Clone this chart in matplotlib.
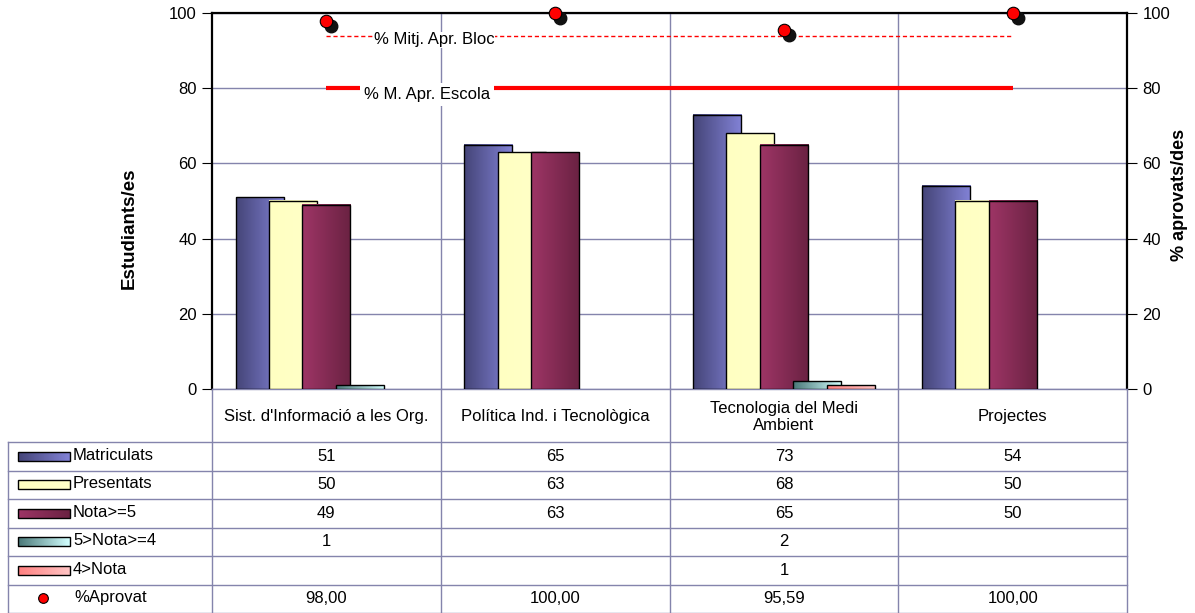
import numpy as np
import matplotlib
matplotlib.use("Agg")
import matplotlib.pyplot as plt
from matplotlib.colors import LinearSegmentedColormap
from matplotlib.transforms import offset_copy
from matplotlib.patches import Rectangle

# ---------------- data ----------------
categories = ["Sist. d'Informació a les Org.", "Política Ind. i Tecnològica",
              "Tecnologia del Medi\nAmbient", "Projectes"]
series_names = ["Matriculats", "Presentats", "Nota>=5", "5>Nota>=4", "4>Nota"]
matriculats = [51, 65, 73, 54]
presentats = [50, 63, 68, 50]
nota_ge5 = [49, 63, 65, 50]
nota_4_5 = [1, None, 2, None]
nota_lt4 = [None, None, 1, None]
aprovat = [98.00, 100.00, 95.59, 100.00]
mitj_bloc = 94
mitj_escola = 80
yticks = [0, 20, 40, 60, 80, 100]

series = [matriculats, presentats, nota_ge5, nota_4_5, nota_lt4]
grads = [("#454578", "#8282d6"),
         ("#ffffc2", "#ffffc8"),
         ("#9e3566", "#6a2242"),
         ("#4a7878", "#d2ffff"),
         ("#ff8080", "#ffc4c4")]

plt.rcParams['font.family'] = ['Liberation Sans', 'DejaVu Sans']
FS = 12
GRID = "#8484ac"

W, H = 1195, 613
fig = plt.figure(figsize=(W / 100, H / 100), dpi=100)
L, R, T, B = 212, 1127, 13, 389
ax = fig.add_axes([L / W, 1 - B / H, (R - L) / W, (B - T) / H])

x = np.arange(len(categories))
offs = np.array([-2, -1, 0, 1, 2]) * 0.146
bw = 0.21


def gradcmap(c):
    return LinearSegmentedColormap.from_list("g", list(c))


gimg = np.linspace(0, 1, 64).reshape(1, -1)

for k, (name, vals) in enumerate(zip(series_names, series)):
    h = np.array([np.nan if v is None else v for v in vals], float)
    z = 3 + k * 0.1
    bars = ax.bar(x + offs[k], np.nan_to_num(h), bw, facecolor='none',
                  edgecolor='black', lw=1, zorder=z + 0.05)
    for b, v in zip(bars, h):
        if np.isnan(v):
            b.set_visible(False)
            continue
        x0 = b.get_x()
        ax.imshow(gimg, cmap=gradcmap(grads[k]), extent=(x0, x0 + b.get_width(), 0, v),
                  aspect='auto', zorder=z, interpolation='bilinear')

# reference lines
ax.plot(x, [mitj_bloc] * len(x), color='red', ls=(0, (3, 2)), lw=1, zorder=5)
ax.plot(x, [mitj_escola] * len(x), color='red', lw=3, zorder=5, solid_capstyle='butt')
ax.text(0.47, 92.9, "% Mitj. Apr. Bloc", fontsize=FS, ha='center', va='center', zorder=6,
        bbox=dict(facecolor='white', edgecolor='none', pad=0.5))
ax.text(0.44, 78.3, "% M. Apr. Escola", fontsize=FS, ha='center', va='center', zorder=6,
        bbox=dict(facecolor='white', edgecolor='none', pad=3))

# %Aprovat points with shadow
shadow = offset_copy(ax.transData, fig=fig, x=5, y=-5, units='dots')
ax.plot(x, aprovat, 'o', color='#111111', ms=9, transform=shadow, zorder=7, clip_on=False)
ax.plot(x, aprovat, 'o', color='red', mec='black', mew=0.8, ms=9, zorder=8, clip_on=False)

ax.set_xlim(-0.5, len(x) - 0.5)
ax.set_ylim(0, 100)
ax.set_yticks(yticks)
ax.set_xticks([])
ax.yaxis.grid(True, color=GRID, lw=1)
ax.set_axisbelow(True)
for xb in x[:-1] + 0.5:
    ax.axvline(xb, color=GRID, lw=1, zorder=1)
ax.tick_params(axis='y', direction='out', length=7, labelsize=FS, pad=4, right=True,
               labelright=True)
for s in ['left', 'right', 'top']:
    ax.spines[s].set_color('black')
    ax.spines[s].set_linewidth(1.6)
ax.spines['bottom'].set_color(GRID)
ax.spines['bottom'].set_linewidth(1)

fig.text(129 / W, 1 - 228 / H, "Estudiants/es", rotation=90, fontsize=13.5, fontweight='bold',
         ha='center', va='center')
fig.text(1180 / W, 1 - 195 / H, "% aprovats/des", rotation=90, fontsize=13, fontweight='bold',
         ha='center', va='center')

# ---------------- data table ----------------
ov = fig.add_axes([0, 0, 1, 1], zorder=5)
ov.set_xlim(0, W)
ov.set_ylim(H, 0)
ov.axis('off')
ov.patch.set_visible(False)

cols = [ax.transData.transform((xb, 0))[0] for xb in np.arange(len(x) + 1) - 0.5]
centers = [(cols[i] + cols[i + 1]) / 2 for i in range(len(x))]
row0, rh, tx0 = 442, 28.5, 8
nrows = 6
for c in cols:
    ov.plot([c, c], [B, H], color=GRID, lw=1)
ov.plot([tx0, tx0], [row0, H], color=GRID, lw=1)
for k in range(nrows + 1):
    yy = row0 + k * rh
    ov.plot([tx0, cols[-1]], [yy, yy], color=GRID, lw=1)

for c, lab in zip(centers, categories):
    ov.text(c, 417, lab, fontsize=FS, ha='center', va='center', linespacing=1.15)

for k, (name, vals) in enumerate(zip(series_names, series)):
    yc = row0 + (k + 0.5) * rh
    ov.imshow(gimg, cmap=gradcmap(grads[k]), extent=(18, 70, yc + 4.5, yc - 4.5),
              aspect='auto', interpolation='bilinear', zorder=2)
    ov.add_patch(Rectangle((18, yc - 4.5), 52, 9, facecolor='none', edgecolor='black',
                           lw=1, zorder=3))
    ov.text(73, yc - 1, name, fontsize=FS, ha='left', va='center')
    for c, v in zip(centers, vals):
        if v is not None:
            ov.text(c, yc, f"{v}", fontsize=FS, ha='center', va='center')

yc = row0 + (len(series) + 0.5) * rh
ov.plot([43], [yc - 1], 'o', color='red', mec='black', mew=0.8, ms=7)
ov.text(74, yc - 1, "%Aprovat", fontsize=FS, ha='left', va='center')
for c, v in zip(centers, aprovat):
    ov.text(c, yc, f"{v:.2f}".replace('.', ','), fontsize=FS, ha='center', va='center')
ov.set_xlim(0, W)
ov.set_ylim(H, 0)

fig.savefig("out.png", dpi=100)
